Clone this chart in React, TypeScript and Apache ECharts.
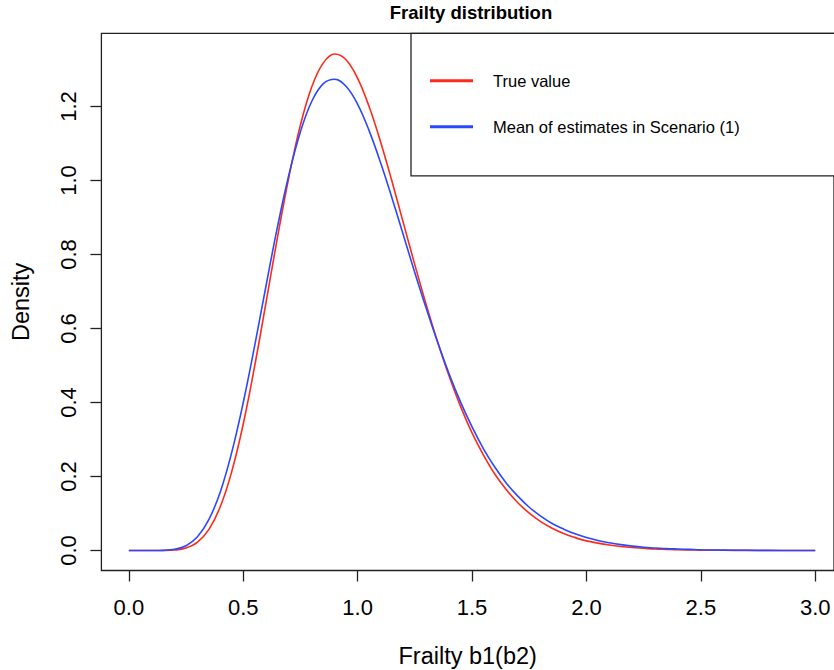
import React, { useEffect, useRef } from "react";
import * as echarts from "echarts";

const frailtyX = [
  0, 0.05, 0.1, 0.15, 0.2, 0.25, 0.3, 0.35, 0.4, 0.45, 0.5, 0.55, 0.6, 0.65, 0.7, 0.75, 0.8, 0.85, 0.9, 0.95,
  1.0, 1.05, 1.1, 1.15, 1.2, 1.25, 1.3, 1.35, 1.4, 1.45, 1.5, 1.55, 1.6, 1.65, 1.7, 1.75, 1.8, 1.85, 1.9, 1.95,
  2.0, 2.05, 2.1, 2.15, 2.2, 2.25, 2.3, 2.35, 2.4, 2.45, 2.5, 2.6, 2.7, 2.8, 2.9, 3.0,
];

const trueValue = [
  0, 0, 0, 0.0002, 0.0014, 0.0068, 0.0225, 0.057, 0.119, 0.214, 0.342, 0.499, 0.672, 0.848, 1.011, 1.15, 1.254, 1.318, 1.342, 1.326,
  1.276, 1.2, 1.105, 0.998, 0.885, 0.772, 0.664, 0.563, 0.471, 0.389, 0.318, 0.258, 0.206, 0.164, 0.129, 0.101, 0.078, 0.06, 0.046, 0.035,
  0.026, 0.02, 0.015, 0.011, 0.008, 0.006, 0.004, 0.003, 0.002, 0.0016, 0.0012, 0.0006, 0.0003, 0.0002, 0.0001, 0,
];

const meanEstimates = [
  0, 0, 0, 0.0005, 0.0032, 0.013, 0.037, 0.084, 0.159, 0.266, 0.4, 0.554, 0.717, 0.876, 1.017, 1.132, 1.215, 1.262, 1.274, 1.254,
  1.206, 1.135, 1.049, 0.953, 0.852, 0.751, 0.654, 0.562, 0.477, 0.401, 0.334, 0.275, 0.225, 0.182, 0.147, 0.117, 0.093, 0.073, 0.058, 0.045,
  0.035, 0.027, 0.021, 0.016, 0.012, 0.009, 0.007, 0.005, 0.004, 0.003, 0.002, 0.0012, 0.0006, 0.0003, 0.0002, 0.0001,
];

const xTicks = [0, 0.5, 1.0, 1.5, 2.0, 2.5, 3.0];
const yTicks = [0, 0.2, 0.4, 0.6, 0.8, 1.0, 1.2];

const seriesNames = ["True value", "Mean of estimates in Scenario (1)"];
const seriesColors = ["#ff2a1a", "#2a48ff"];

const FONT = "'Liberation Sans', Arial, Helvetica, sans-serif";

export default function App() {
  const ref = useRef<HTMLDivElement>(null);

  useEffect(() => {
    document.body.style.margin = "0";
    if (!ref.current) return;
    const chart = echarts.init(ref.current, null, { renderer: "svg" });
    const axisColor = "#222";
    const option = {
      animation: false,
      backgroundColor: "#ffffff",
      textStyle: { fontFamily: FONT },
      title: {
        text: "Frailty distribution",
        left: 471,
        top: 3,
        padding: 0,
        textAlign: "center",
        textStyle: { fontFamily: FONT, fontWeight: "bold", fontSize: 18.5, color: "#000" },
      },
      legend: {
        orient: "vertical",
        left: 411,
        top: 33.3,
        padding: [38, 160, 39.5, 19],
        itemWidth: 43,
        itemHeight: 3,
        itemGap: 27,
        icon: "rect",
        borderColor: "#222",
        borderWidth: 1.3,
        borderRadius: 0,
        backgroundColor: "#fff",
        textStyle: { fontFamily: FONT, fontSize: 16.5, color: "#000", lineHeight: 19, padding: [0, 0, 0, 15] },
        data: seriesNames,
      },
      grid: {
        left: 101.4,
        top: 33.3,
        right: 0,
        height: 537.2,
        show: true,
        borderColor: axisColor,
        borderWidth: 1.3,
        backgroundColor: "transparent",
        containLabel: false,
        outerBoundsMode: "none",
      },
      xAxis: {
        type: "value",
        min: -0.12,
        max: 3.082,
        axisLine: { show: false, onZero: false },
        splitLine: { show: false },
        axisTick: { show: true, length: 11, customValues: xTicks, lineStyle: { color: axisColor, width: 1.3 } },
        axisLabel: {
          customValues: xTicks,
          formatter: (v: number) => v.toFixed(1),
          fontSize: 22,
          fontFamily: FONT,
          color: "#000",
          margin: 26,
        },
        name: "Frailty b1(b2)",
        nameLocation: "middle",
        nameGap: 73,
        nameTextStyle: { fontSize: 23.5, fontFamily: FONT, color: "#000" },
      },
      yAxis: {
        type: "value",
        min: -0.054,
        max: 1.398,
        axisLine: { show: false, onZero: false },
        splitLine: { show: false },
        axisTick: { show: true, length: 11, customValues: yTicks, lineStyle: { color: axisColor, width: 1.3 } },
        axisLabel: {
          customValues: yTicks,
          formatter: (v: number) => v.toFixed(1),
          rotate: 90,
          fontSize: 22,
          fontFamily: FONT,
          color: "#000",
          margin: 22,
        },
        name: "Density",
        nameLocation: "middle",
        nameRotate: 90,
        nameGap: 68,
        nameTextStyle: { fontSize: 23.5, fontFamily: FONT, color: "#000" },
      },
      series: [trueValue, meanEstimates].map((vals, i) => ({
        name: seriesNames[i],
        type: "line",
        data: frailtyX.map((x, j) => [x, vals[j]]),
        showSymbol: false,
        smooth: 0.4,
        color: seriesColors[i],
        lineStyle: { color: seriesColors[i], width: 1.6 },
        z: 2 + i,
      })),
    };
    chart.setOption(option as any);
    return () => chart.dispose();
  }, []);

  return <div ref={ref} style={{ width: 834, height: 670 }} />;
}
